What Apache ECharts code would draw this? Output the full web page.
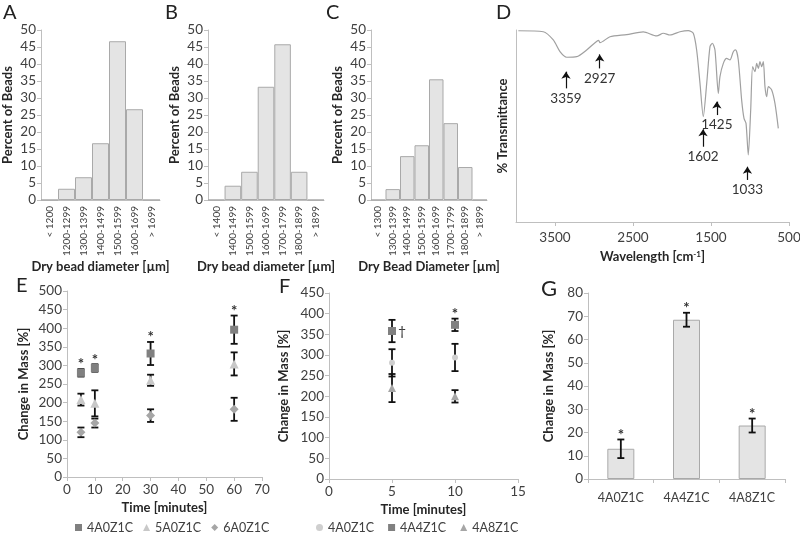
<!DOCTYPE html>
<html><head><meta charset="utf-8">
<script src="https://cdn.jsdelivr.net/npm/echarts@6/dist/echarts.min.js"></script>
<style>html,body{margin:0;padding:0;background:#fff}#c{width:800px;height:533px}</style>
</head><body><div id="c"></div>
<script>
// ---------- Panel A ----------
const aCats = ['< 1200','1200-1299','1300-1399','1400-1499','1500-1599','1600-1699','> 1699'];
const aVals = [0, 3.3, 6.7, 16.7, 46.7, 26.7, 0];
// ---------- Panel B ----------
const bCats = ['< 1400','1400-1499','1500-1599','1600-1699','1700-1799','1800-1899','> 1899'];
const bVals = [0, 4.2, 8.3, 33.3, 45.8, 8.3, 0];
// ---------- Panel C ----------
const cCats = ['< 1300','1300-1399','1400-1499','1500-1599','1600-1699','1700-1799','1800-1899','> 1899'];
const cVals = [0, 3.2, 12.9, 16.1, 35.5, 22.6, 9.7, 0];
// ---------- Panel D (FTIR spectrum) ----------
const dWavenumber = [3970,3650,3522,3436,3350,3222,3094,2987,2940,2923,2795,2581,2368,2196,2111,2026,1898,1791,1727,1684,1641,1599,1555,1513,1483,1449,1406,1385,1342,1299,1257,1214,1184,1150,1107,1077,1051,1022,991,966,936,914,893,872,850,829,808,786,765,722,680,637];
const dTransmittance = [99.6,99.1,94.8,88.7,85.8,86.1,89.6,93.4,94.6,93.4,96.5,97.6,99.0,96.9,98.3,97.4,99.1,99.7,98.3,89.6,72.2,54.9,72.2,91.3,93.1,89.6,67.0,75.7,82.6,85.2,84.4,88.7,89.6,84.4,63.5,54.0,51.4,34.9,58.3,80.9,78.3,82.6,80.0,83.5,80.9,83.5,70.5,65.3,70.5,68.8,61.8,48.8];
const dXTicks = [500, 1500, 2500, 3500];
const dPeakWn = [3359, 2927, 1602, 1425, 1033];
const dArrowTail = [69.6, 80.0, 39.2, 55.7, 21.9];
const dArrowHead = [78.3, 87.3, 48.3, 62.7, 28.8];
// ---------- Panel E ----------
const eTimes = [5, 10, 30, 60];
const e4A0Z1C = [280, 293, 332, 396];
const e4A0Z1CErr = [10, 10, 31, 38];
const e4A0Z1CSig = ['*', '*', '*', '*'];
const e5A0Z1C = [208, 198, 260, 304];
const e5A0Z1CErr = [16, 35, 15, 31];
const e6A0Z1C = [120, 145, 165, 182];
const e6A0Z1CErr = [13, 12, 17, 31];
// ---------- Panel F ----------
const fTimes = [5, 10];
const f4A0Z1C = [281, 294];
const f4A0Z1CErr = [33, 33];
const f4A4Z1C = [358, 373];
const f4A4Z1CErr = [27, 15];
const f4A4Z1CSig = ['†', '*'];
const f4A8Z1C = [220, 200];
const f4A8Z1CErr = [34, 15];
// ---------- Panel G ----------
const gCats = ['4A0Z1C', '4A4Z1C', '4A8Z1C'];
const gVals = [13, 68.5, 23];
const gErr = [4, 3, 3];
const gSig = ['*', '*', '*'];

const FONT = 'Lato, "Open Sans", sans-serif';
const TXT = '#404040';
const AX = '#bfbfbf';
const BAR = '#e4e4e4', BARB = '#a9a9a9';
const NAMESTYLE = {fontWeight: 'bold', fontSize: 13, color: '#262626', fontFamily: FONT};

const chart = echarts.init(document.getElementById('c'), null, {renderer: 'canvas'});

function gridAt(l, t, w, h) { return {left: l, top: t, width: w, height: h, containLabel: false, outerBoundsMode: 'none'}; }
function valY(gi, max, interval, name, gap, showLabels) {
  return {type: 'value', gridIndex: gi, min: 0, max: max, interval: interval,
    axisLine: {show: true, lineStyle: {color: AX}}, axisTick: {show: showLabels, length: 4, lineStyle: {color: AX}},
    splitLine: {show: false}, axisLabel: {show: showLabels, color: TXT, fontSize: 13.5, fontFamily: FONT, margin: 5},
    name: name, nameLocation: 'middle', nameGap: gap, nameRotate: 90,
    nameTextStyle: NAMESTYLE};
}
function catX(gi, cats, name) {
  return {type: 'category', gridIndex: gi, data: cats,
    axisLine: {lineStyle: {color: AX}}, axisTick: {show: false},
    axisLabel: {rotate: 90, fontSize: 10, color: TXT, fontFamily: FONT, margin: 6, interval: 0},
    name: name, nameLocation: 'middle', nameGap: 52,
    nameTextStyle: NAMESTYLE};
}
function histBar(i, vals) {
  return {type: 'bar', xAxisIndex: i, yAxisIndex: i, data: vals, barCategoryGap: '0%',
    itemStyle: {color: BAR, borderColor: BARB, borderWidth: 1}, silent: true};
}
function errSeries(gi, xs, vals, errs, marks) {
  return {type: 'custom', xAxisIndex: gi, yAxisIndex: gi, silent: true, z: 3,
    data: xs.map((x, i) => [x, vals[i], errs[i]]),
    renderItem: function (params, api) {
      const x = api.value(0), v = api.value(1), e = api.value(2);
      const top = api.coord([x, v + e]), bot = api.coord([x, v - e]), mid = api.coord([x, v]);
      const cw = 3.5;
      const st = {stroke: '#111', lineWidth: 1.8};
      const ch = [
        {type: 'line', shape: {x1: top[0], y1: top[1], x2: bot[0], y2: bot[1]}, style: st},
        {type: 'line', shape: {x1: top[0] - cw, y1: top[1], x2: top[0] + cw, y2: top[1]}, style: st},
        {type: 'line', shape: {x1: bot[0] - cw, y1: bot[1], x2: bot[0] + cw, y2: bot[1]}, style: st}
      ];
      const m = marks ? marks[params.dataIndex] : null;
      if (m === '*') {
        ch.push({type: 'text', style: {text: '*', x: top[0], y: top[1] + 3, align: 'center', verticalAlign: 'bottom', fill: '#333', font: 'bold 15px ' + FONT}});
      } else if (m === '†') {
        ch.push({type: 'text', style: {text: '†', x: mid[0] + 10, y: mid[1], align: 'center', verticalAlign: 'middle', fill: '#333', font: '14px ' + FONT}});
      }
      return {type: 'group', children: ch};
    }};
}
function scat(gi, name, xs, vals, symbol, size, color) {
  return {type: 'scatter', name: name, xAxisIndex: gi, yAxisIndex: gi, symbol: symbol, symbolSize: size,
    data: xs.map((x, i) => [x, vals[i]]), itemStyle: {color: color, opacity: 1}, z: 4, silent: true};
}
function letter(t, l, tp, s) {
  return {type: 'text', left: l, top: tp, silent: true, style: {text: t, fill: '#222', font: s + 'px ' + FONT}};
}

const option = {
  animation: false,
  backgroundColor: '#fff',
  textStyle: {fontFamily: FONT},
  grid: [
    gridAt(41, 30, 119, 170),
    gridAt(208, 30, 116, 170),
    gridAt(371, 30, 116, 170),
    gridAt(516, 30, 273, 192),
    gridAt(67, 291, 195, 186),
    gridAt(329, 293, 189, 186),
    gridAt(588, 293, 197, 186)
  ],
  xAxis: [
    catX(0, aCats, 'Dry bead diameter [µm]'),
    catX(1, bCats, 'Dry bead diameter [µm]'),
    catX(2, cCats, 'Dry Bead Diameter [µm]'),
    {type: 'value', gridIndex: 3, min: 500, max: 4000, inverse: true,
      axisLine: {lineStyle: {color: AX}}, splitLine: {show: false},
      axisTick: {show: true, customValues: dXTicks, length: 4, lineStyle: {color: AX}},
      axisLabel: {customValues: dXTicks, formatter: (v) => String(v), color: TXT, fontSize: 13.5, fontFamily: FONT, margin: 9},
      name: 'Wavelength [cm{sup|-1}]', nameLocation: 'middle', nameGap: 28,
      nameTextStyle: Object.assign({}, NAMESTYLE, {
        rich: {sup: {fontSize: 8, fontWeight: 'bold', verticalAlign: 'top', padding: [0, 0, 6, 0], color: '#262626', fontFamily: FONT}}})},
    {type: 'value', gridIndex: 4, min: 0, max: 70, interval: 10,
      axisLine: {lineStyle: {color: AX}}, splitLine: {show: false},
      axisTick: {show: true, length: 4, lineStyle: {color: AX}},
      axisLabel: {color: TXT, fontSize: 13.5, fontFamily: FONT, margin: 6},
      name: 'Time [minutes]', nameLocation: 'middle', nameGap: 24, nameTextStyle: NAMESTYLE},
    {type: 'value', gridIndex: 5, min: 0, max: 15, interval: 5,
      axisLine: {lineStyle: {color: AX}}, splitLine: {show: false},
      axisTick: {show: true, length: 4, lineStyle: {color: AX}},
      axisLabel: {color: TXT, fontSize: 13.5, fontFamily: FONT, margin: 6},
      name: 'Time [minutes]', nameLocation: 'middle', nameGap: 24, nameTextStyle: NAMESTYLE},
    {type: 'category', gridIndex: 6, data: gCats,
      axisLine: {lineStyle: {color: AX}}, axisTick: {show: true, length: 4, lineStyle: {color: AX}},
      axisLabel: {color: TXT, fontSize: 12.5, fontFamily: FONT, margin: 12}}
  ],
  yAxis: [
    valY(0, 50, 5, 'Percent of Beads', 27, true),
    valY(1, 50, 5, 'Percent of Beads', 27, true),
    valY(2, 50, 5, 'Percent of Beads', 27, true),
    Object.assign(valY(3, 100, 50, '% Transmittance', 7, false), {axisTick: {show: false}}),
    valY(4, 500, 50, 'Change in Mass [%]', 37, true),
    valY(5, 450, 50, 'Change in Mass [%]', 39, true),
    valY(6, 80, 10, 'Change in Mass [%]', 33, true)
  ],
  legend: [
    {left: 70, top: 516, selectedMode: false, itemWidth: 7, itemHeight: 7, itemGap: 10,
      textStyle: {color: TXT, fontSize: 12.5, fontFamily: FONT},
      data: [{name: '4A0Z1C', icon: 'rect'}, {name: '5A0Z1C', icon: 'triangle'}, {name: '6A0Z1C', icon: 'diamond'}]},
    {left: 311, top: 516, selectedMode: false, itemWidth: 7, itemHeight: 7, itemGap: 14,
      textStyle: {color: TXT, fontSize: 12.5, fontFamily: FONT},
      formatter: (n) => n.trim(),
      data: [{name: '4A0Z1C ', icon: 'circle'}, {name: '4A4Z1C', icon: 'rect'}, {name: '4A8Z1C', icon: 'triangle'}]}
  ],
  graphic: [
    letter('A', 3, 3, 20), letter('B', 165, 3, 20), letter('C', 326, 3, 20), letter('D', 496, 3, 20),
    letter('E', 16, 276, 20), letter('F', 279, 277, 20), letter('G', 541, 278, 22)
  ],
  series: [
    histBar(0, aVals),
    histBar(1, bVals),
    histBar(2, cVals),
    {type: 'line', xAxisIndex: 3, yAxisIndex: 3, data: dWavenumber.map((w, i) => [w, dTransmittance[i]]),
      symbol: 'none', smooth: 0.25, lineStyle: {color: '#a0a0a0', width: 1.2}, silent: true,
      markLine: {silent: true, symbol: ['none', 'arrow'], symbolSize: 7, precision: 0,
        lineStyle: {color: '#111', width: 1.2, type: 'solid'},
        label: {position: 'start', formatter: '{b}', color: '#333', fontSize: 13.5, fontFamily: FONT, distance: 3},
        emphasis: {disabled: true},
        data: dPeakWn.map((w, i) => [{coord: [w, dArrowTail[i]], name: String(w)}, {coord: [w, dArrowHead[i]]}])}},
    // E
    errSeries(4, eTimes, e4A0Z1C, e4A0Z1CErr, e4A0Z1CSig),
    errSeries(4, eTimes, e5A0Z1C, e5A0Z1CErr, null),
    errSeries(4, eTimes, e6A0Z1C, e6A0Z1CErr, null),
    scat(4, '4A0Z1C', eTimes, e4A0Z1C, 'rect', 8, '#808080'),
    scat(4, '5A0Z1C', eTimes, e5A0Z1C, 'triangle', 9, '#c8c8c8'),
    scat(4, '6A0Z1C', eTimes, e6A0Z1C, 'diamond', 9, '#a6a6a6'),
    // F
    errSeries(5, fTimes, f4A0Z1C, f4A0Z1CErr, null),
    errSeries(5, fTimes, f4A4Z1C, f4A4Z1CErr, f4A4Z1CSig),
    errSeries(5, fTimes, f4A8Z1C, f4A8Z1CErr, null),
    scat(5, '4A0Z1C ', fTimes, f4A0Z1C, 'circle', 6, '#cfcfcf'),
    scat(5, '4A4Z1C', fTimes, f4A4Z1C, 'rect', 8, '#808080'),
    scat(5, '4A8Z1C', fTimes, f4A8Z1C, 'triangle', 8, '#a6a6a6'),
    // G
    {type: 'bar', xAxisIndex: 6, yAxisIndex: 6, data: gVals, barWidth: 27,
      itemStyle: {color: BAR, borderColor: BARB, borderWidth: 1}, silent: true},
    errSeries(6, [0, 1, 2], gVals, gErr, gSig)
  ]
};
chart.setOption(option);
</script></body></html>
